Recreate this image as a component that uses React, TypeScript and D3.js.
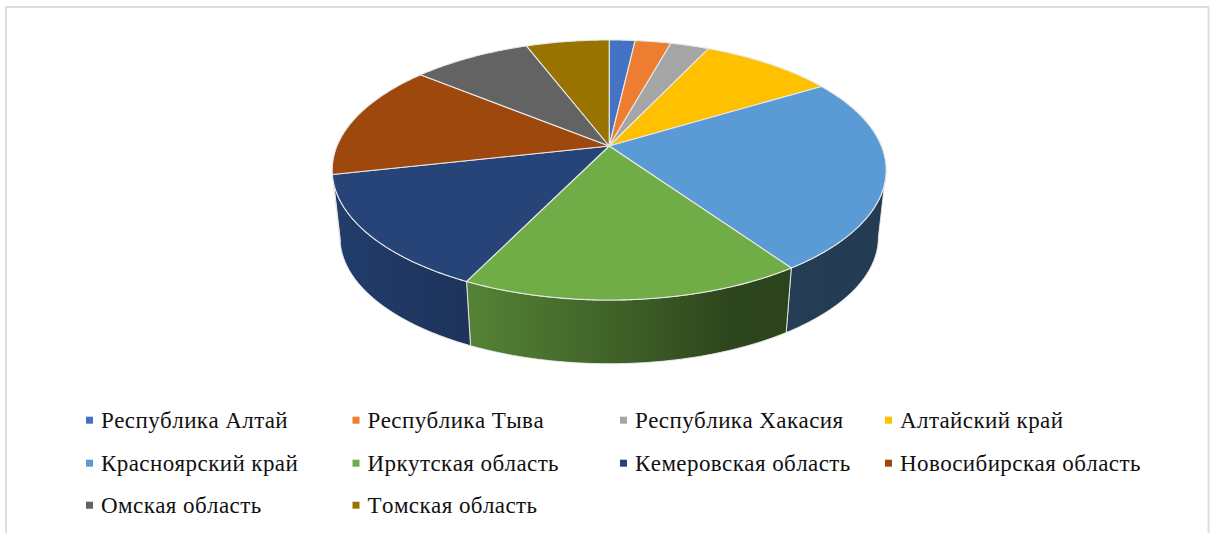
import React from "react";
import * as d3 from "d3";

// Shares of the federal district's regions, in percent
const regions = [
  "Республика Алтай",
  "Республика Тыва",
  "Республика Хакасия",
  "Алтайский край",
  "Красноярский край",
  "Иркутская область",
  "Кемеровская область",
  "Новосибирская область",
  "Омская область",
  "Томская область",
];
const shares = [1.8, 2.5, 2.7, 9.3, 24.1, 16.8, 14.3, 14.4, 8.3, 5.8];
const colors = [
  "#4472C4", "#ED7D31", "#A5A5A5", "#FFC000", "#5B9BD5",
  "#70AD47", "#264478", "#9E480E", "#636363", "#997300",
];
// Brightness of the pie's wall from left to right: [offset, factor]
const wallShade = [
  [0, 0.9],
  [0.25, 0.75],
  [0.52, 0.56],
  [0.72, 0.4],
  [1, 0.39],
];

const WIDTH = 1214;
const HEIGHT = 533;

// Tilted-disc projection: plane coordinates in [-1, 1] onto the page
const cx = 609.2;
const cy = 146;
const tilt = 0.1846;
const halfX = 272.2;
const halfY = 125.6;
const planeX = d3.scaleLinear().domain([-1, 1]).range([cx - halfX, cx + halfX]);
const planeY = d3.scaleLinear().domain([-1, 1]).range([cy - halfY, cy + halfY]);

// The underside of the disc is slightly smaller and sits lower
const floorScale = 0.972;
const floorDrop = 68;

type Pt = [number, number];

function project(theta: number, floor: boolean): Pt {
  const u = Math.sin(theta);
  const v = -Math.cos(theta);
  const w = 1 - tilt * v;
  const x = planeX(u / w);
  const y = planeY(v / w);
  if (!floor) return [x, y];
  return [cx + (x - cx) * floorScale, cy + (y - cy) * floorScale + floorDrop];
}

const path = d3.line<Pt>().x((d) => d[0]).y((d) => d[1]);

function rim(a0: number, a1: number, floor: boolean): Pt[] {
  const steps = Math.max(2, Math.ceil((a1 - a0) / 0.01));
  const t = d3.scaleLinear().domain([0, steps]).range([a0, a1]);
  return d3.range(steps + 1).map((i) => project(t(i), floor));
}

const slices = d3
  .pie<number>()
  .sort(null)
  .value((d) => d)(shares);

// Wall is visible only between the two silhouette tangents of the disc
const tangentR = Math.acos(-tilt);
const tangentL = 2 * Math.PI - tangentR;

// Legend grid
const legendCols = [86, 352.5, 620, 885];
const legendRows = [428, 471, 513];
const legendCellCols = 4;

export default function App() {
  return (
    <svg
      width={WIDTH}
      height={HEIGHT}
      viewBox={`0 0 ${WIDTH} ${HEIGHT}`}
      style={{ position: "absolute", left: 0, top: 0, background: "#fff" }}
    >
      <defs>
        {colors.map((c, i) => (
          <linearGradient
            key={c}
            id={`wall-${i}`}
            gradientUnits="userSpaceOnUse"
            x1={cx - 277}
            x2={cx + 277}
            y1={0}
            y2={0}
          >
            {wallShade.map(([o, f]) => (
              <stop key={o} offset={o} stopColor={d3.interpolateRgb("#000", c)(f)} />
            ))}
          </linearGradient>
        ))}
      </defs>

      {/* chart frame, open at the bottom */}
      <path
        d={`M6 ${HEIGHT}V7H1208.5V${HEIGHT}`}
        fill="none"
        stroke="#dedede"
        strokeWidth={2}
      />

      {/* walls */}
      {slices.map((s, i) => {
        const a0 = Math.max(s.startAngle, tangentR);
        const a1 = Math.min(s.endAngle, tangentL);
        if (a1 <= a0) return null;
        const pts = [...rim(a0, a1, false), ...rim(a0, a1, true).reverse()];
        return (
          <path
            key={regions[i]}
            d={path(pts) + "Z"}
            fill={`url(#wall-${i})`}
            stroke="#ececec"
            strokeWidth={0.9}
          />
        );
      })}

      {/* top face */}
      {slices.map((s, i) => {
        const pts: Pt[] = [[cx, cy], ...rim(s.startAngle, s.endAngle, false)];
        return (
          <path
            key={regions[i]}
            d={path(pts) + "Z"}
            fill={colors[i]}
            stroke="#e8e8e8"
            strokeWidth={1.1}
            strokeLinejoin="round"
          />
        );
      })}

      {/* legend */}
      {regions.map((name, i) => {
        const col = i % legendCellCols;
        const row = Math.floor(i / legendCellCols);
        const x = legendCols[col];
        const y = legendRows[row];
        return (
          <g key={name}>
            <rect x={x} y={y - 11.3} width={7} height={7} fill={colors[i]} />
            <text
              x={x + 15}
              y={y}
              fontFamily="'Liberation Serif', serif"
              fontSize={23}
              letterSpacing={0.42}
              fill="#111"
              style={{ fontKerning: "none" }}
            >
              {name}
            </text>
          </g>
        );
      })}
    </svg>
  );
}
